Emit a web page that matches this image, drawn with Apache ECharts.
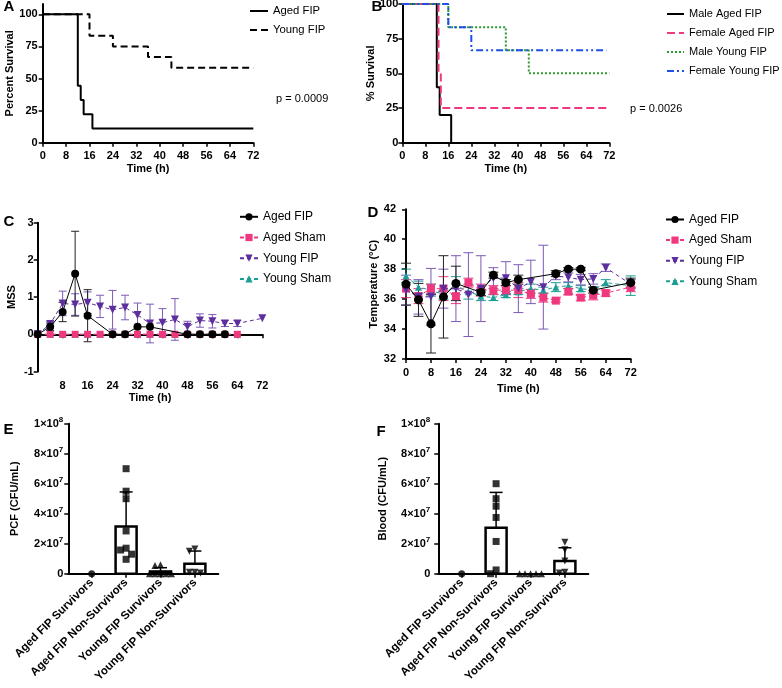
<!DOCTYPE html>
<html><head><meta charset="utf-8">
<script src="https://cdn.jsdelivr.net/npm/echarts@6/dist/echarts.min.js"></script>
<style>html,body{margin:0;padding:0;background:#fff}#c{width:782px;height:688px}</style>
</head><body><div id="c"></div>
<script>
// ---------------- DATA ----------------
// Panel A: Kaplan-Meier, time (h) / percent survival
const timeTicks = [0, 8, 16, 24, 32, 40, 48, 56, 64, 72];
const survTicks = [0, 25, 50, 75, 100];
const aAgedT = [0, 12, 13, 14, 17, 72];
const aAgedS = [100, 44.4, 33.3, 22.2, 11.1, 11.1];
const aYoungT = [0, 16, 24, 36, 44, 72];
const aYoungS = [100, 83.3, 75, 66.7, 58.3, 58.3];
const pA = 'p = 0.0009';
// Panel B
const bMaleAgedT = [0, 12, 13, 17];
const bMaleAgedS = [100, 40, 20, 0];
const bFemAgedT = [0, 12.6, 13.4, 71];
const bFemAgedS = [100, 50, 25, 25];
const bMaleYoungT = [0, 16, 36, 44, 72];
const bMaleYoungS = [100, 83.3, 66.7, 50, 50];
const bFemYoungT = [0, 16, 24, 71];
const bFemYoungS = [100, 83.3, 66.7, 66.7];
const pB = 'p = 0.0026';
// Panel C: MSS
const cAgedFipT = [0, 4, 8, 12, 16, 24, 28, 32, 36, 48, 52, 56, 60];
const cAgedFipM = [0, 0.2, 0.6, 1.63, 0.5, 0, 0, 0.2, 0.2, 0, 0, 0, 0];
const cAgedFipSD = [0, 0.1, 0.26, 1.14, 0.7, 0, 0, 0, 0, 0, 0, 0, 0];
const cYoungFipT = [0, 4, 8, 12, 16, 20, 24, 28, 32, 36, 40, 44, 48, 52, 56, 60, 64, 72];
const cYoungFipM = [0, 0.28, 0.83, 0.8, 0.85, 0.75, 0.66, 0.72, 0.52, 0.29, 0.31, 0.4, 0.2, 0.37, 0.35, 0.29, 0.29, 0.43];
const cYoungFipSD = [0, 0.06, 0.33, 0.29, 0.29, 0.3, 0.52, 0.33, 0.32, 0.52, 0.38, 0.56, 0.15, 0.18, 0.18, 0.08, 0.08, 0];
const cShamT = [0, 4, 8, 12, 16, 20, 24, 28, 32, 36, 40, 44, 48, 52, 56, 60, 64];
const cAgedShamM = [0, 0, 0, 0, 0, 0, 0, 0, 0, 0, 0, 0, 0, 0, 0, 0, 0];
const cYoungShamM = [0, 0, 0, 0, 0, 0, 0, 0, 0, 0, 0, 0, 0, 0, 0, 0, 0];
// Panel D: Temperature
const dAgedFipT = [0, 4, 8, 12, 16, 24, 28, 32, 36, 48, 52, 56, 60, 72];
const dAgedFipM = [37.0, 35.95, 34.35, 36.15, 37.05, 36.45, 37.6, 37.1, 37.3, 37.7, 38.0, 38.0, 36.6, 37.1];
const dAgedFipSD = [1.4, 1.1, 1.95, 2.75, 1.15, 0.2, 0.2, 0.2, 0.3, 0.2, 0.1, 0.1, 0.2, 0.3];
const dT = [0, 4, 8, 12, 16, 20, 24, 28, 32, 36, 40, 44, 48, 52, 56, 60, 64, 72];
const dAgedShamM = [36.7, 36.2, 36.7, 36.7, 36.2, 37.1, 36.6, 36.6, 36.6, 36.6, 36.35, 36.1, 35.9, 36.5, 36.1, 36.25, 36.4, 36.8];
const dAgedShamSD = [0.6, 0.5, 0.3, 0.8, 0.5, 0.3, 0.4, 0.3, 0.3, 0.5, 0.3, 0.3, 0.1, 0.2, 0.2, 0.3, 0.2, 0.3];
const dYoungFipM = [36.6, 36.15, 36.15, 36.7, 36.7, 36.3, 36.7, 37.4, 37.4, 36.7, 37.15, 36.8, 37.55, 37.45, 37.3, 37.35, 38.1, 37.0];
const dYoungFipSD = [1.0, 1.15, 1.9, 1.3, 2.2, 2.8, 2.2, 0.7, 1.1, 1.6, 1.45, 2.8, 0.25, 0.3, 0.35, 0.35, 0.25, 0.3];
const dYoungShamM = [37.55, 36.8, 36.6, 36.3, 36.9, 36.5, 36.2, 36.1, 36.3, 36.5, 36.7, 36.6, 36.8, 36.9, 36.7, 36.6, 37.1, 36.9];
const dYoungShamSD = [0.45, 0.4, 0.4, 0.3, 0.6, 0.5, 0.3, 0.2, 0.2, 0.2, 0.3, 0.2, 0.3, 0.2, 0.2, 0.2, 0.2, 0.65];
// Panels E / F: CFU/mL
const groups = ['Aged FIP Survivors', 'Aged FIP Non-Survivors', 'Young FIP Survivors', 'Young FIP Non-Survivors'];
const cfuTicks = [0, 2e7, 4e7, 6e7, 8e7, 1e8];
const eMean = [0, 3.15e7, 0.15e7, 0.66e7];
const eSD = [0, 2.3e7, 0.25e7, 0.85e7];
const ePts = [
  [0],
  [7.0e7, 5.5e7, 5.0e7, 2.85e7, 1.7e7, 1.58e7, 1.3e7, 0.96e7],
  [0.6e7, 0.55e7, 0, 0, 0, 0, 0],
  [1.65e7, 1.5e7, 0.1e7, 0.05e7, 0.1e7]
];
const fMean = [0, 3.07e7, 0, 0.85e7];
const fSD = [0, 2.35e7, 0, 0.88e7];
const fPts = [
  [0],
  [6.0e7, 5.0e7, 4.5e7, 3.75e7, 2.15e7, 0.25e7, 0],
  [0, 0, 0, 0, 0],
  [2.1e7, 1.6e7, 0.85e7, 0.1e7, 0.05e7]
];

// ---------------- STYLE ----------------
const FONT = '"Liberation Sans", Arial, Helvetica, sans-serif';
const BLACK = '#000', PINK = '#f0387f', PURPLE = '#5d2f9e', PURPLE_E = '#7d5ab8', TEAL = '#1b9e95', GREEN = '#2b9a30', BLUE = '#1e4fe8';

function merge(a, b) {
  const out = Array.isArray(a) ? a.slice() : Object.assign({}, a);
  for (const k in b) {
    if (b[k] && typeof b[k] === 'object' && !Array.isArray(b[k]) && a && typeof a[k] === 'object' && !Array.isArray(a[k])) out[k] = merge(a[k], b[k]);
    else out[k] = b[k];
  }
  return out;
}
const axisBase = {
  type: 'value',
  axisLine: { show: true, onZero: false, lineStyle: { color: '#000', width: 2 } },
  axisTick: { show: true, inside: false, length: 4, lineStyle: { color: '#000', width: 1.5 } },
  axisLabel: { color: '#000', fontWeight: 'bold', fontSize: 11, fontFamily: FONT, margin: 6 },
  splitLine: { show: false },
  nameLocation: 'middle',
  nameTextStyle: { color: '#000', fontWeight: 'bold', fontSize: 11, fontFamily: FONT }
};
const ax = o => merge(axisBase, o);

function sci(v) {
  if (v === 0) return '{n|0}';
  const e = Math.floor(Math.log10(v) + 1e-9);
  const m = Math.round(v / Math.pow(10, e));
  return '{n|' + m + '×10}{s|' + e + '}';
}
const sciRich = {
  n: { fontSize: 11, fontWeight: 'bold', fontFamily: FONT, color: '#000', lineHeight: 16 },
  s: { fontSize: 8, fontWeight: 'bold', fontFamily: FONT, color: '#000', verticalAlign: 'top', lineHeight: 9 }
};

function km(name, gi, t, s, color, type) {
  return { type: 'line', name, xAxisIndex: gi, yAxisIndex: gi, data: t.map((x, i) => [x, s[i]]), step: 'end',
    symbol: 'none', lineStyle: { color, width: 2, type }, itemStyle: { color }, z: 3 };
}
function ln(name, gi, t, m, color, symbol, rot, dashed, size, z) {
  return { type: 'line', name, xAxisIndex: gi, yAxisIndex: gi, data: t.map((x, i) => [x, m[i]]),
    symbol, symbolRotate: rot, symbolSize: size, lineStyle: { color, width: 1, type: dashed ? [4, 3] : 'solid' },
    itemStyle: { color }, z };
}
function err(gi, t, m, sd, color, cap, z) {
  return { type: 'custom', xAxisIndex: gi, yAxisIndex: gi, data: t.map((x, i) => [x, m[i], sd[i]]),
    encode: { x: 0, y: 1 }, z, silent: true,
    renderItem(p, api) {
      const x = api.value(0), y = api.value(1), s = api.value(2);
      if (!s) return { type: 'group', children: [] };
      const top = api.coord([x, y + s]), bot = api.coord([x, y - s]);
      const st = { stroke: color, lineWidth: 1 };
      return { type: 'group', children: [
        { type: 'line', shape: { x1: top[0], y1: top[1], x2: bot[0], y2: bot[1] }, style: st },
        { type: 'line', shape: { x1: top[0] - cap, y1: top[1], x2: top[0] + cap, y2: top[1] }, style: st },
        { type: 'line', shape: { x1: bot[0] - cap, y1: bot[1], x2: bot[0] + cap, y2: bot[1] }, style: st }
      ] };
    } };
}
function bars(gi, means, sds) {
  return { type: 'custom', xAxisIndex: gi, yAxisIndex: gi, data: means.map((m, i) => [i, m, sds[i]]),
    encode: { x: 0, y: 1 }, z: 2, silent: true,
    renderItem(p, api) {
      const i = api.value(0), m = api.value(1), s = api.value(2);
      const b = api.coord([i, 0]), t = api.coord([i, m]);
      const hw = 10.5, ch = [];
      if (s > 0) {
        const e = api.coord([i, m + s]);
        ch.push({ type: 'line', shape: { x1: t[0], y1: t[1], x2: e[0], y2: e[1] }, style: { stroke: '#000', lineWidth: 1.5 } });
        ch.push({ type: 'line', shape: { x1: e[0] - 6.5, y1: e[1], x2: e[0] + 6.5, y2: e[1] }, style: { stroke: '#000', lineWidth: 1.5 } });
      }
      if (m > 0) ch.push({ type: 'rect', shape: { x: b[0] - hw, y: t[1], width: 2 * hw, height: b[1] - t[1] },
        style: { fill: '#fff', stroke: '#000', lineWidth: 2.5 } });
      return { type: 'group', children: ch };
    } };
}
function swarm(vals, thr, step) {
  const placed = [], offs = new Array(vals.length);
  const order = vals.map((v, i) => i).sort((a, b) => vals[b] - vals[a]);
  const cands = [0, -1, 1, -2, 2, -3, 3, -4, 4];
  for (const i of order) {
    for (const c of cands) {
      const o = c * step;
      if (!placed.some(q => Math.abs(q.v - vals[i]) < thr && Math.abs(q.o - o) < step * 0.9)) {
        offs[i] = o; placed.push({ v: vals[i], o }); break;
      }
    }
  }
  return offs;
}
const syms = [{ s: 'circle', r: 0 }, { s: 'rect', r: 0 }, { s: 'triangle', r: 0 }, { s: 'triangle', r: 180 }];
function pts(gi, grp) {
  const data = [];
  grp.forEach((vals, i) => {
    const offs = swarm(vals, 4.5e6, 0.16);
    vals.forEach((v, j) => data.push({ value: [i + offs[j], v], symbol: syms[i].s, symbolRotate: syms[i].r }));
  });
  return { type: 'scatter', xAxisIndex: gi, yAxisIndex: gi, data, symbolSize: 7, itemStyle: { color: '#000' }, z: 4 };
}
function bracket(gi, x0, x1, yTop, yBot) {
  return { type: 'line', xAxisIndex: gi, yAxisIndex: gi, clip: false, symbol: 'none', silent: true,
    data: [[x0, yTop], [x1, yTop], [x1, yBot], [x0, yBot]], lineStyle: { color: '#000', width: 2 }, z: 3 };
}

const strip = n => n.slice(2);
const legendBase = { orient: 'vertical', padding: 0, selectedMode: false, formatter: strip,
  textStyle: { fontSize: 11, color: '#000', fontFamily: FONT } };

const catAxis = (gi) => ax({ gridIndex: gi, min: -0.68, max: 3.68,
  axisTick: { customValues: [0, 1, 2, 3] },
  axisLabel: { customValues: [0, 1, 2, 3], rotate: 45, margin: 7, fontSize: 11.5, formatter: v => groups[Math.round(v)] } });

const option = {
  animation: false,
  backgroundColor: '#fff',
  grid: [
    { left: 42.7, top: 4, width: 210.6, height: 138.7 },
    { left: 402.3, top: 4, width: 207, height: 138.7 },
    { left: 37.7, top: 222.7, width: 224.6, height: 148.8 },
    { left: 406, top: 209.3, width: 224.7, height: 149.7 },
    { left: 68.3, top: 423.7, width: 150, height: 150 },
    { left: 438.3, top: 423.7, width: 150, height: 150 }
  ].map(g => Object.assign(g, { containLabel: false, outerBoundsMode: 'none' })),
  xAxis: [
    ax({ gridIndex: 0, min: 0, max: 72, interval: 8, name: 'Time (h)', nameGap: 21, axisLabel: { margin: 8 } }),
    ax({ gridIndex: 1, min: 0, max: 72, interval: 8, name: 'Time (h)', nameGap: 21, axisLabel: { margin: 8 } }),
    ax({ gridIndex: 2, min: 0, max: 72, interval: 8, name: 'Time (h)', nameGap: 17,
      axisLine: { onZero: true }, axisLabel: { margin: 9, showMinLabel: false } }),
    ax({ gridIndex: 3, min: 0, max: 72, interval: 8, name: 'Time (h)', nameGap: 24, axisLabel: { margin: 8 } }),
    catAxis(4), catAxis(5)
  ],
  yAxis: [
    ax({ gridIndex: 0, min: 0, max: 108, name: 'Percent Survival', nameGap: 25,
      axisTick: { customValues: survTicks }, axisLabel: { customValues: survTicks, margin: 5 } }),
    ax({ gridIndex: 1, min: 0, max: 100, interval: 25, name: '% Survival', nameGap: 14, axisLabel: { margin: 4 } }),
    ax({ gridIndex: 2, min: -1, max: 3, interval: 1, name: 'MSS', nameGap: 20, axisLabel: { margin: 4 } }),
    ax({ gridIndex: 3, min: 32, max: 42, interval: 2, name: 'Temperature (°C)', nameGap: 20, axisLabel: { margin: 10 } }),
    ax({ gridIndex: 4, min: 0, max: 1e8, interval: 2e7, name: 'PCF (CFU/mL)', nameGap: 48,
      axisLabel: { margin: 5, formatter: sci, rich: sciRich } }),
    ax({ gridIndex: 5, min: 0, max: 1e8, interval: 2e7, name: 'Blood (CFU/mL)', nameGap: 50,
      axisLabel: { margin: 8, formatter: sci, rich: sciRich } })
  ],
  legend: [
    merge(legendBase, { data: ['A:Aged FIP', 'A:Young FIP'], left: 249, top: 4, itemWidth: 18, itemHeight: 14, itemGap: 5,
      itemStyle: { opacity: 0 }, textStyle: { lineHeight: 14, fontSize: 11.3 } }),
    merge(legendBase, { data: ['B:Male Aged FIP', 'B:Female Aged FIP', 'B:Male Young FIP', 'B:Female Young FIP'], left: 666, top: 7, itemWidth: 17, itemHeight: 14, itemGap: 5,
      itemStyle: { opacity: 0 }, textStyle: { lineHeight: 14 } }),
    merge(legendBase, { data: ['C:Aged FIP', 'C:Aged Sham', 'C:Young FIP', 'C:Young Sham'], left: 239, top: 210.8, itemWidth: 18, itemHeight: 9, itemGap: 8.7, textStyle: { lineHeight: 9, fontSize: 12 } }),
    merge(legendBase, { data: ['D:Aged FIP', 'D:Aged Sham', 'D:Young FIP', 'D:Young Sham'], left: 665, top: 213.5, itemWidth: 18, itemHeight: 9, itemGap: 8.6, textStyle: { lineHeight: 9, fontSize: 12 } })
  ],
  graphic: [
    ...[['A', 9, 7], ['B', 377, 7], ['C', 9, 222], ['D', 373, 212.5], ['E', 8.5, 430], ['F', 381, 432]].map(([t, x, y]) => ({
      type: 'text', x, y, style: { text: t, font: 'bold 15px ' + FONT, fill: '#000', align: 'center', verticalAlign: 'middle' } })),
    { type: 'text', x: 276, y: 99, style: { text: pA, font: '11px ' + FONT, fill: '#000', verticalAlign: 'middle' } },
    { type: 'text', x: 630, y: 108.5, style: { text: pB, font: '11px ' + FONT, fill: '#000', verticalAlign: 'middle' } }
  ],
  series: [
    // A
    km('A:Aged FIP', 0, aAgedT, aAgedS, BLACK, 'solid'),
    km('A:Young FIP', 0, aYoungT, aYoungS, BLACK, [7, 4]),
    bracket(0, 72.8, 78.3, aYoungS[aYoungS.length - 1], aAgedS[aAgedS.length - 1]),
    // B
    km('B:Male Aged FIP', 1, bMaleAgedT, bMaleAgedS, BLACK, 'solid'),
    km('B:Female Aged FIP', 1, bFemAgedT, bFemAgedS, PINK, [8, 4]),
    km('B:Male Young FIP', 1, bMaleYoungT, bMaleYoungS, GREEN, [2, 2]),
    km('B:Female Young FIP', 1, bFemYoungT, bFemYoungS, BLUE, [7, 3, 2, 3, 2, 3]),
    bracket(1, 74.4, 78.1, bMaleYoungS[bMaleYoungS.length - 1], bMaleAgedS[bMaleAgedS.length - 1]),
    // C
    err(2, cYoungFipT, cYoungFipM, cYoungFipSD, PURPLE_E, 4, 5),
    err(2, cAgedFipT, cAgedFipM, cAgedFipSD, '#222', 4, 6),
    ln('C:Young Sham', 2, cShamT, cYoungShamM, TEAL, 'triangle', 0, true, 7, 7),
    ln('C:Aged Sham', 2, cShamT, cAgedShamM, PINK, 'rect', 0, true, 7, 8),
    ln('C:Young FIP', 2, cYoungFipT, cYoungFipM, PURPLE, 'triangle', 180, true, 8, 9),
    ln('C:Aged FIP', 2, cAgedFipT, cAgedFipM, BLACK, 'circle', 0, false, 8, 10),
    // D
    err(3, dT, dYoungShamM, dYoungShamSD, TEAL, 5, 5),
    err(3, dT, dAgedShamM, dAgedShamSD, PINK, 5, 5),
    err(3, dT, dYoungFipM, dYoungFipSD, PURPLE_E, 5, 5),
    err(3, dAgedFipT, dAgedFipM, dAgedFipSD, '#222', 5, 6),
    ln('D:Young Sham', 3, dT, dYoungShamM, TEAL, 'triangle', 0, true, 7, 7),
    ln('D:Aged Sham', 3, dT, dAgedShamM, PINK, 'rect', 0, true, 8, 8),
    ln('D:Young FIP', 3, dT, dYoungFipM, PURPLE, 'triangle', 180, true, 8, 9),
    ln('D:Aged FIP', 3, dAgedFipT, dAgedFipM, BLACK, 'circle', 0, false, 9, 10),
    // E, F
    bars(4, eMean, eSD), pts(4, ePts),
    bars(5, fMean, fSD), pts(5, fPts)
  ]
};
const chart = echarts.init(document.getElementById('c'), null, { renderer: 'canvas', width: 782, height: 688 });
chart.setOption(option);
</script></body></html>
